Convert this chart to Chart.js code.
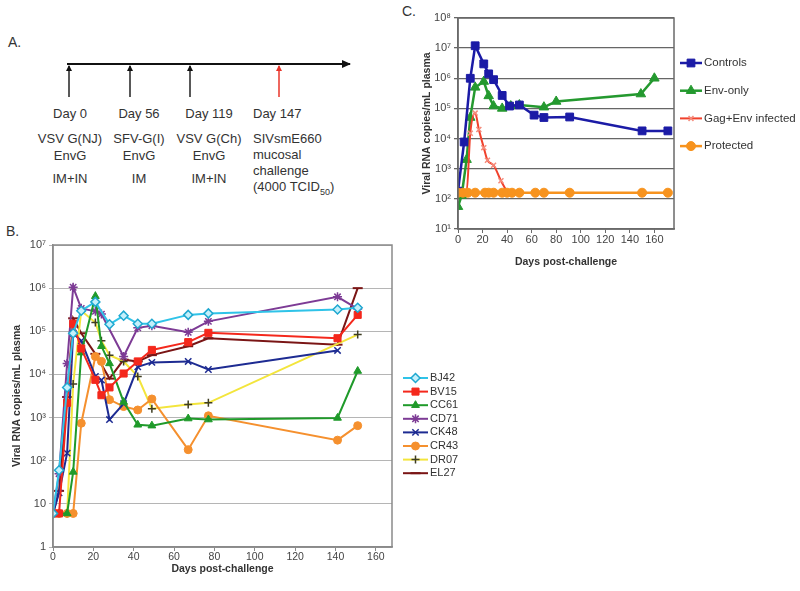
<!DOCTYPE html>
<html>
<head>
<meta charset="utf-8">
<script src="https://cdn.jsdelivr.net/npm/chart.js@4/dist/chart.umd.min.js"></script>
<style>
  body { margin:0; background:#fff; }
  #wrap { position:relative; width:800px; height:591px; overflow:hidden; font-family:"Liberation Sans", Arial, sans-serif; color:#333; }
  .t { position:absolute; font-size:13px; line-height:15px; white-space:nowrap; }
  .c { transform:translateX(-50%); }
  .p { font-size:14px; }
  #cvB { position:absolute; left:0; top:235px; }
  #cvC { position:absolute; left:400px; top:0; }
</style>
</head>
<body>
<div id="wrap">
  <!-- panel A: schedule -->
  <svg width="400" height="230" style="position:absolute;left:0;top:0">
    <defs>
      <marker id="ahBig" markerUnits="userSpaceOnUse" markerWidth="9" markerHeight="8" refX="8" refY="4" orient="auto"><path d="M0,0 L9,4 L0,8 z" fill="#111"/></marker>
      <marker id="ahK" markerUnits="userSpaceOnUse" markerWidth="6" markerHeight="6" refX="5" refY="3" orient="auto"><path d="M0,0 L6,3 L0,6 z" fill="#111"/></marker>
      <marker id="ahR" markerUnits="userSpaceOnUse" markerWidth="6" markerHeight="6" refX="5" refY="3" orient="auto"><path d="M0,0 L6,3 L0,6 z" fill="#e8342a"/></marker>
    </defs>
    <line x1="67" y1="64" x2="350" y2="64" stroke="#111" stroke-width="2" marker-end="url(#ahBig)"/>
    <line x1="69" y1="97" x2="69" y2="66" stroke="#222" stroke-width="1.5" marker-end="url(#ahK)"/>
    <line x1="130" y1="97" x2="130" y2="66" stroke="#222" stroke-width="1.5" marker-end="url(#ahK)"/>
    <line x1="190" y1="97" x2="190" y2="66" stroke="#222" stroke-width="1.5" marker-end="url(#ahK)"/>
    <line x1="279" y1="97" x2="279" y2="66" stroke="#e8342a" stroke-width="1.5" marker-end="url(#ahR)"/>
  </svg>
  <div class="t p" style="left:8px;top:35px">A.</div>
  <div class="t p" style="left:6px;top:224px">B.</div>
  <div class="t p" style="left:402px;top:4px">C.</div>

  <div class="t c" style="left:70px;top:106px">Day 0</div>
  <div class="t c" style="left:70px;top:131px">VSV G(NJ)</div>
  <div class="t c" style="left:70px;top:148px">EnvG</div>
  <div class="t c" style="left:70px;top:171px">IM+IN</div>

  <div class="t c" style="left:139px;top:106px">Day 56</div>
  <div class="t c" style="left:139px;top:131px">SFV-G(I)</div>
  <div class="t c" style="left:139px;top:148px">EnvG</div>
  <div class="t c" style="left:139px;top:171px">IM</div>

  <div class="t c" style="left:209px;top:106px">Day 119</div>
  <div class="t c" style="left:209px;top:131px">VSV G(Ch)</div>
  <div class="t c" style="left:209px;top:148px">EnvG</div>
  <div class="t c" style="left:209px;top:171px">IM+IN</div>

  <div class="t" style="left:253px;top:106px">Day 147</div>
  <div class="t" style="left:253px;top:131px">SIVsmE660</div>
  <div class="t" style="left:253px;top:147px">mucosal</div>
  <div class="t" style="left:253px;top:163px">challenge</div>
  <div class="t" style="left:253px;top:179px">(4000 TCID<sub style="font-size:9px">50</sub>)</div>

  <canvas id="cvB" width="480" height="356"></canvas>
  <canvas id="cvC" width="400" height="275"></canvas>
</div>

<script>
// ---- panel B: individual animals ----
const daysB = [0, 3, 7, 10, 14, 21, 24, 28, 35, 42, 49, 67, 77, 141, 151];
const animalsB = ['BJ42', 'BV15', 'CC61', 'CD71', 'CK48', 'CR43', 'DR07', 'EL27'];
const bj42 = [6, 60, 5000, 9e4, 3e5, 4.8e5, null, 1.45e5, 2.3e5, 1.5e5, 1.5e5, 2.4e5, 2.6e5, 3.2e5, 3.5e5];
const bv15 = [6, 6, 2200, 1.5e5, 4e4, 7.5e3, 3.3e3, 5e3, 1.05e4, 2e4, 3.7e4, 5.6e4, 9.2e4, 6.9e4, 2.4e5];
const cc61 = [6, 6, 6, 55, 3.2e4, 6.5e5, 4.5e4, 1.8e4, 2.3e3, 680, 650, 950, 900, 980, 1.2e4];
const cd71 = [6, 50, 1.8e4, 1.05e6, 3.4e5, 2.9e5, 2.5e5, null, 2.6e4, 1.2e5, 1.35e5, 9.5e4, 1.7e5, 6.3e5, 3.3e5];
const ck48 = [6, 18, 150, 9e4, 6e4, 9e3, 7.4e3, 900, 2.1e3, 1.5e4, 1.9e4, 2e4, 1.3e4, 3.6e4, null];
const cr43 = [6, 6, 6, 6, 740, 2.6e4, 2e4, 2.6e3, 1.8e3, 1.5e3, 2.7e3, 180, 1.1e3, 300, 650];
const dr07 = [6, 6, 6, 6e3, 3e5, 1.6e5, 6e4, 2.8e4, 2e4, 9e3, 1.6e3, 2e3, 2.2e3, null, 8.4e4];
const el27 = [6, 20, 3e3, 2e5, 9e4, 3e4, null, 8e3, 2.2e4, 2e4, 2.8e4, 4.5e4, 6.9e4, 4.9e4, 1e6];
const ticksYB = [1, 10, 1e2, 1e3, 1e4, 1e5, 1e6, 1e7];
const ticksXB = [0, 20, 40, 60, 80, 100, 120, 140, 160];

// ---- panel C: group means ----
const groupsC = ['Controls', 'Env-only', 'Gag+Env infected', 'Protected'];
const daysControls = [0, 5, 10, 14, 21, 25, 29, 36, 42, 50, 62, 70, 91, 150, 171];
const controls = [180, 7.7e3, 1e6, 1.2e7, 3e6, 1.4e6, 9e5, 2.7e5, 1.2e5, 1.3e5, 6e4, 5e4, 5.2e4, 1.8e4, 1.8e4];
const daysEnvOnly = [0, 3, 7, 10, 14, 21, 25, 29, 36, 43, 50, 70, 80, 149, 160];
const envOnly = [55, 130, 2e3, 5e4, 5e5, 7.8e5, 2.6e5, 1.2e5, 1e5, 1.2e5, 1.3e5, 1.1e5, 1.7e5, 3e5, 1e6];
const daysGagEnv = [0, 3, 7, 10, 14, 17, 21, 24, 29, 35, 40];
const gagEnv = [170, 170, 170, 1.5e4, 7e4, 2e4, 5e3, 1.9e3, 1.3e3, 400, 170];
const daysProtected = [0, 4, 8, 14, 22, 25, 29, 36, 40, 44, 50, 63, 70, 91, 150, 171];
const protectedVL = [160, 160, 160, 160, 160, 160, 160, 160, 160, 160, 160, 160, 160, 160, 160, 160];
const ticksYC = [10, 1e2, 1e3, 1e4, 1e5, 1e6, 1e7, 1e8];
const ticksXC = [0, 20, 40, 60, 80, 100, 120, 140, 160];

const FONT = "'Liberation Sans', Arial, sans-serif";
const SUP = '⁰¹²³⁴⁵⁶⁷⁸⁹';
function pow10(v, plainLow) {
  const e = Math.round(Math.log10(v));
  if (plainLow && e === 0) return '1';
  if (plainLow && e === 1) return '10';
  return '10' + String(e).split('').map(d => SUP[d]).join('');
}
const pts = (xs, ys) => xs.map((x, i) => ({x: x, y: ys[i]})).filter(p => p.y !== null);

// frame round the plot area + excel-like legend (line with marker)
function frameLegend(frameColor, lg) {
  return {
    id: 'frameLegend',
    afterDraw(chart) {
      const ctx = chart.ctx, a = chart.chartArea;
      ctx.save();
      ctx.strokeStyle = frameColor; ctx.lineWidth = 1.5;
      ctx.strokeRect(a.left, a.top, a.right - a.left, a.bottom - a.top);
      chart.data.datasets.forEach((ds, i) => {
        const y = lg.y + i * lg.step;
        ctx.strokeStyle = ds.borderColor; ctx.lineWidth = ds.borderWidth;
        ctx.beginPath(); ctx.moveTo(lg.x, y); ctx.lineTo(lg.x + lg.len, y); ctx.stroke();
        if (Chart.helpers && Chart.helpers.drawPoint) {
          ctx.fillStyle = ds.pointBackgroundColor; ctx.strokeStyle = ds.pointBorderColor;
          ctx.lineWidth = ds.pointBorderWidth;
          Chart.helpers.drawPoint(ctx, {pointStyle: ds.pointStyle, radius: ds.pointRadius, rotation: 0, borderWidth: ds.pointBorderWidth}, lg.x + lg.len / 2, y);
        }
        ctx.fillStyle = '#333'; ctx.font = lg.font; ctx.textBaseline = 'middle'; ctx.textAlign = 'left';
        ctx.fillText(ds.label, lg.x + lg.len + 2, y);
      });
      ctx.restore();
    }
  };
}

// chart B
const seriesB = [bj42, bv15, cc61, cd71, ck48, cr43, dr07, el27];
const stylesB = [
  {c: '#2fc3e8', ps: 'rectRot', r: 4.5, bg: '#c4f0fb', pc: '#1fa8d0', bw: 1.5},
  {c: '#f4281c', ps: 'rect', r: 5, bg: '#f4281c', pc: '#f4281c', bw: 1},
  {c: '#1f9a2a', ps: 'triangle', r: 4.5, bg: '#1f9a2a', pc: '#1f9a2a', bw: 1},
  {c: '#7d3b95', ps: 'star', r: 4.5, bg: '#7d3b95', pc: '#7d3b95', bw: 1.5},
  {c: '#1d2b92', ps: 'crossRot', r: 4.5, bg: '#1d2b92', pc: '#1d2b92', bw: 1.5},
  {c: '#f5902e', ps: 'circle', r: 4, bg: '#f5902e', pc: '#f5902e', bw: 1},
  {c: '#f3e53c', ps: 'cross', r: 4, bg: '#3e3d22', pc: '#3e3d22', bw: 1.5},
  {c: '#7a1515', ps: 'line', r: 5, bg: '#7a1515', pc: '#7a1515', bw: 2}
];
const dsB = animalsB.map((name, i) => ({
  label: name,
  data: pts(daysB, seriesB[i]),
  borderColor: stylesB[i].c, borderWidth: 2,
  pointStyle: stylesB[i].ps, pointRadius: stylesB[i].r,
  pointBackgroundColor: stylesB[i].bg, pointBorderColor: stylesB[i].pc, pointBorderWidth: stylesB[i].bw,
  tension: 0
}));

new Chart(document.getElementById('cvB'), {
  type: 'line',
  data: {datasets: dsB},
  options: {
    responsive: false, animation: false, devicePixelRatio: 1,
    layout: {padding: {top: 10, right: 88, bottom: 0, left: 0}},
    plugins: {legend: {display: false}, tooltip: {enabled: false}},
    scales: {
      x: {
        type: 'linear', min: 0, max: 168,
        afterBuildTicks: s => { s.ticks = ticksXB.map(v => ({value: v})); },
        afterFit: s => { s.height = 44; },
        grid: {drawOnChartArea: false, tickLength: 4, color: '#8a8a8a'},
        border: {color: '#8a8a8a', width: 1.5},
        ticks: {font: {family: FONT, size: 10.5}, color: '#444', padding: 0, maxRotation: 0, autoSkip: false},
        title: {display: true, text: 'Days post-challenge', color: '#333', font: {family: FONT, size: 10.5, weight: 'bold'}, padding: {bottom: 16, top: 0}}
      },
      y: {
        type: 'logarithmic', min: 1, max: 1e7,
        afterBuildTicks: s => { s.ticks = ticksYB.map(v => ({value: v})); },
        afterFit: s => { s.width = 53; },
        grid: {color: '#b5b5b5', lineWidth: 1, tickLength: 4},
        border: {color: '#8a8a8a', width: 1.5},
        ticks: {font: {family: FONT, size: 11}, color: '#444', padding: 3, autoSkip: false, callback: v => pow10(v, true)},
        title: {display: true, text: 'Viral RNA copies/mL plasma', color: '#333', font: {family: FONT, size: 10.5, weight: 'bold'}, padding: {top: 10.5, bottom: 0}}
      }
    }
  },
  plugins: [frameLegend('#8a8a8a', {x: 403, len: 25, y: 143, step: 13.6, font: '11px ' + FONT})]
});

// chart C
const dsC = [
  {label: groupsC[0], data: pts(daysControls, controls), borderColor: '#1b1ba6', borderWidth: 2.5,
   pointStyle: 'rect', pointRadius: 5.5, pointBackgroundColor: '#1b1ba6', pointBorderColor: '#1b1ba6', pointBorderWidth: 1, order: 2, tension: 0},
  {label: groupsC[1], data: pts(daysEnvOnly, envOnly), borderColor: '#24992f', borderWidth: 2.5,
   pointStyle: 'triangle', pointRadius: 5.5, pointBackgroundColor: '#24992f', pointBorderColor: '#24992f', pointBorderWidth: 1, order: 3, tension: 0},
  {label: groupsC[2], data: pts(daysGagEnv, gagEnv), borderColor: '#f0412c', borderWidth: 2,
   pointStyle: 'crossRot', pointRadius: 3.5, pointBackgroundColor: '#f58a7a', pointBorderColor: '#f58a7a', pointBorderWidth: 1.5, order: 1, cubicInterpolationMode: 'monotone'},
  {label: groupsC[3], data: pts(daysProtected, protectedVL), borderColor: '#f7931e', borderWidth: 2.5,
   pointStyle: 'circle', pointRadius: 4.5, pointBackgroundColor: '#f7931e', pointBorderColor: '#f7931e', pointBorderWidth: 1, order: 0, tension: 0}
];

new Chart(document.getElementById('cvC'), {
  type: 'line',
  data: {datasets: dsC},
  options: {
    responsive: false, animation: false, devicePixelRatio: 1,
    layout: {padding: {top: 18, right: 126, bottom: 0, left: 0}},
    plugins: {legend: {display: false}, tooltip: {enabled: false}},
    scales: {
      x: {
        type: 'linear', min: 0, max: 176,
        afterBuildTicks: s => { s.ticks = ticksXC.map(v => ({value: v})); },
        afterFit: s => { s.height = 46; },
        grid: {drawOnChartArea: false, tickLength: 4, color: '#6a6a6a'},
        border: {color: '#6a6a6a', width: 1.5},
        ticks: {font: {family: FONT, size: 11}, color: '#444', padding: 0, maxRotation: 0, autoSkip: false},
        title: {display: true, text: 'Days post-challenge', color: '#333', font: {family: FONT, size: 10.5, weight: 'bold'}, padding: {bottom: 6.7, top: 0}}
      },
      y: {
        type: 'logarithmic', min: 10, max: 1e8,
        afterBuildTicks: s => { s.ticks = ticksYC.map(v => ({value: v})); },
        afterFit: s => { s.width = 58; },
        grid: {color: '#666', lineWidth: 1.3, tickLength: 4},
        border: {color: '#6a6a6a', width: 1.5},
        ticks: {font: {family: FONT, size: 11}, color: '#444', padding: 3, autoSkip: false, callback: v => pow10(v, false)},
        title: {display: true, text: 'Viral RNA copies/mL plasma', color: '#333', font: {family: FONT, size: 10.5, weight: 'bold'}, padding: {top: 20.7, bottom: 0}}
      }
    }
  },
  plugins: [frameLegend('#6a6a6a', {x: 280, len: 22, y: 63, step: 27.7, font: '11.5px ' + FONT})]
});
</script>
</body>
</html>
